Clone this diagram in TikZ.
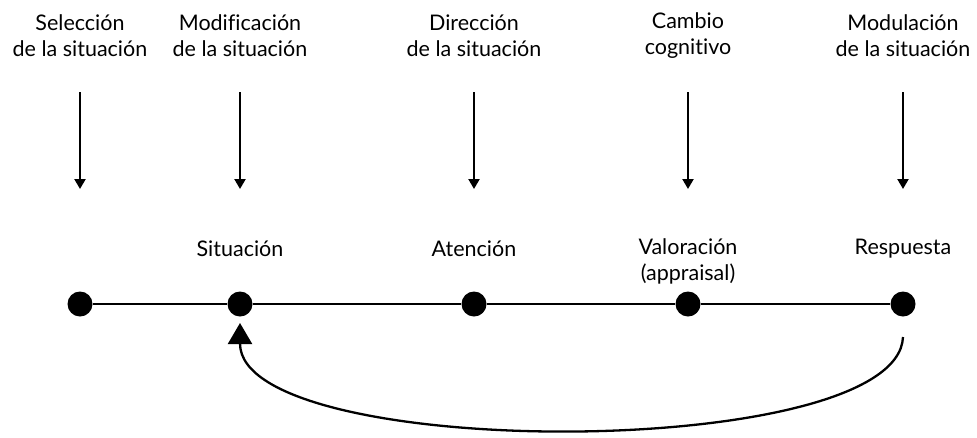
\documentclass[tikz,border=0pt]{standalone}
\usepackage{fontspec}
\setmainfont{Lato}[Ligatures=NoCommon]
\usetikzlibrary{arrows.meta}
\begin{document}
\begin{tikzpicture}[x=1pt,y=-1pt,
  lbl/.style={align=center,inner sep=0pt,font=\fontsize{21.5}{26}\selectfont},
  dot/.style={circle,fill=black,inner sep=0pt,minimum size=25pt},
  down/.style={line width=2.2pt,-{Triangle[width=11pt,length=10pt]}},
  axis/.style={line width=2.6pt},
  back/.style={line width=2.3pt,-{Triangle[width=24pt,length=21pt]}}]
\useasboundingbox (0,0) rectangle (977,437);
% top labels
\node[lbl] (t1) at (80,36) {Selección\\de la situación};
\node[lbl] (t2) at (240,36) {Modificación\\de la situación};
\node[lbl] (t3) at (474,36) {Dirección\\de la situación};
\node[lbl] (t4) at (688,36) {Cambio\\cognitivo};
\node[lbl] (t5) at (903,36) {Modulación\\de la situación};
% arrow endpoints
\foreach \i/\x in {1/80,2/240,3/474,4/688,5/903}{
  \coordinate (a\i) at (\x,92);
  \coordinate (b\i) at (\x,189);
  \draw[down] (a\i) -- (b\i);
}
% middle labels
\node[lbl] (m2) at (240,249) {Situación};
\node[lbl] (m3) at (474,249) {Atención};
\node[lbl] (m4) at (688,261) {Valoración\\(appraisal)};
\node[lbl] (m5) at (903,249) {Respuesta};
% dots
\node[dot] (d1) at (80,304) {};
\node[dot] (d2) at (240,304) {};
\node[dot] (d3) at (474,304) {};
\node[dot] (d4) at (688,304) {};
\node[dot] (d5) at (903,304) {};
\draw[axis] (d1) -- (d2) -- (d3) -- (d4) -- (d5);
% feedback
\coordinate (cs) at (903,337);
\coordinate (ce) at (240,323);
\draw[back] (cs) .. controls (898,462) and (240,462) .. (ce);
\end{tikzpicture}
\end{document}
